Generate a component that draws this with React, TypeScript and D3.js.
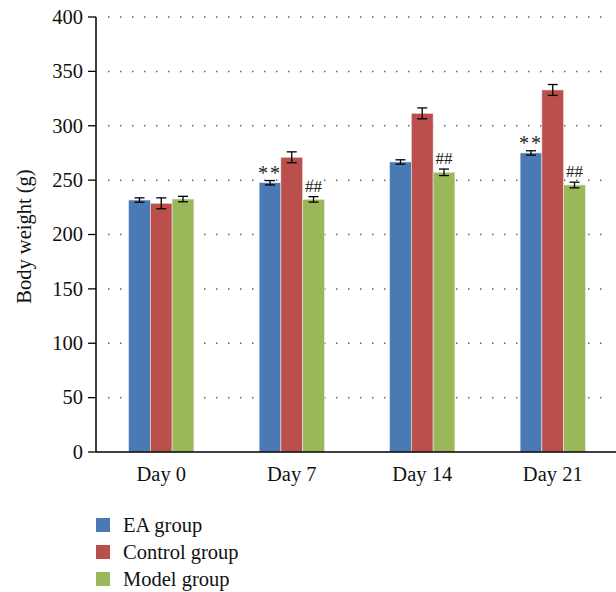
import React from "react";
import * as d3 from "d3";

const categories = ["Day 0", "Day 7", "Day 14", "Day 21"];
const seriesNames = ["EA group", "Control group", "Model group"];
const eaValues = [231.7, 247.6, 266.7, 275.0];
const controlValues = [228.7, 271.0, 311.4, 332.9];
const modelValues = [232.6, 232.3, 257.2, 245.5];
const eaErrors = [2, 2, 2, 2];
const controlErrors = [5, 5, 5, 5];
const modelErrors = [2.5, 2.5, 3, 2.6];
const yTicks = [0, 50, 100, 150, 200, 250, 300, 350, 400];
// significance marks: [category index, series index, label]
const marks: [number, number, string][] = [
  [1, 0, "**"],
  [1, 2, "##"],
  [2, 2, "##"],
  [3, 0, "**"],
  [3, 2, "##"],
];

const colors = ["#4A7AB4", "#BA4F4C", "#9AB75A"];
const FONT = "Liberation Serif";
const FS = 20.5;

export default function App() {
  const W = 616, H = 592;
  const left = 96, right = 618, top = 17, bottom = 452;
  const values = [eaValues, controlValues, modelValues];
  const errors = [eaErrors, controlErrors, modelErrors];

  const x = d3.scaleBand<string>().domain(categories).range([left, right]).paddingInner(0).paddingOuter(0);
  const y = d3.scaleLinear().domain([0, 400]).range([bottom, top]);
  const groupW = x.bandwidth() * 0.5;
  const xs = d3.scaleBand<string>().domain(seriesNames).range([0, groupW]);

  return (
    <svg width={W} height={H} style={{ position: "absolute", left: 0, top: 0, background: "#fff" }}>
      {/* grid */}
      {yTicks.filter((t) => t > 0).map((t) => (
        <line key={"g" + t} x1={left + 12} x2={612} y1={y(t)} y2={y(t)} stroke="#666" strokeWidth={1.5} strokeDasharray="1.5,10.5" />
      ))}
      {/* bars */}
      {categories.map((c, ci) => {
        const gx = x(c)! + (x.bandwidth() - groupW) / 2;
        return (
          <g key={c}>
            {seriesNames.map((s, si) => {
              const v = values[si][ci];
              const e = errors[si][ci];
              const bx = gx + xs(s)!;
              const bw = xs.bandwidth();
              const cx = bx + bw / 2;
              return (
                <g key={s}>
                  <rect x={bx} y={y(v)} width={bw} height={bottom - y(v)} fill={colors[si]} stroke="#e8e8e8" strokeWidth={0.6} />
                  <line x1={cx} x2={cx} y1={y(v + e)} y2={y(v - e)} stroke="#000" strokeWidth={1.3} />
                  <line x1={cx - 5} x2={cx + 5} y1={y(v + e)} y2={y(v + e)} stroke="#000" strokeWidth={1.3} />
                  <line x1={cx - 5} x2={cx + 5} y1={y(v - e)} y2={y(v - e)} stroke="#000" strokeWidth={1.3} />
                </g>
              );
            })}
          </g>
        );
      })}
      {/* significance marks */}
      {marks.map(([ci, si, label], i) => {
        const c = categories[ci];
        const gx = x(c)! + (x.bandwidth() - groupW) / 2;
        const cx = gx + xs(seriesNames[si])! + xs.bandwidth() / 2;
        const v = values[si][ci] + errors[si][ci];
        const isStar = label === "**";
        return (
          <text key={"m" + i} x={cx} y={y(v) - (isStar ? 1 : 5)} textAnchor="middle" fontFamily={FONT} fontSize={isStar ? 20 : 17} fill="#222" letterSpacing={isStar ? 2 : 0}>
            {label}
          </text>
        );
      })}
      {/* axes */}
      <line x1={left} x2={left} y1={top} y2={bottom} stroke="#000" strokeWidth={1.5} />
      <line x1={left} x2={616} y1={bottom} y2={bottom} stroke="#000" strokeWidth={1.5} />
      {yTicks.map((t) => (
        <g key={"t" + t}>
          <line x1={left - 8} x2={left} y1={y(t)} y2={y(t)} stroke="#000" strokeWidth={1.3} />
          <text x={left - 13} y={y(t)} dy="0.33em" textAnchor="end" fontFamily={FONT} fontSize={FS} fill="#111">{t}</text>
        </g>
      ))}
      {categories.map((c) => (
        <text key={"x" + c} x={x(c)! + x.bandwidth() / 2} y={481} textAnchor="middle" fontFamily={FONT} fontSize={FS} fill="#111">{c}</text>
      ))}
      <text transform={`translate(31, ${(top + bottom) / 2 + 2}) rotate(-90)`} textAnchor="middle" fontFamily={FONT} fontSize={FS} fill="#111">Body weight (g)</text>
      {/* legend */}
      {seriesNames.map((s, i) => (
        <g key={"l" + s} transform={`translate(96, ${518 + i * 27})`}>
          <rect x={0} y={0} width={14} height={14} fill={colors[i]} />
          <text x={27} y={7} dy="0.33em" fontFamily={FONT} fontSize={FS} fill="#111">{s}</text>
        </g>
      ))}
    </svg>
  );
}
